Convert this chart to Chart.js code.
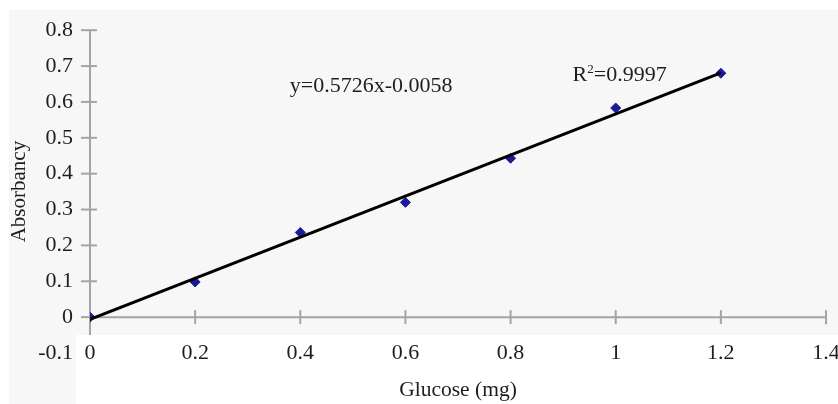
<!DOCTYPE html>
<html>
<head>
<meta charset="utf-8">
<script src="https://cdn.jsdelivr.net/npm/chart.js@4"></script>
<style>
  html, body { margin: 0; padding: 0; background: #fff; }
  #wrap { width: 838px; height: 404px; }
</style>
</head>
<body>
<div id="wrap"><canvas id="myChart" width="838" height="404"></canvas></div>
<script>
// measured points
const glucose = [0, 0.2, 0.4, 0.6, 0.8, 1.0, 1.2];
const absorbancy = [0, 0.098, 0.236, 0.32, 0.443, 0.583, 0.68];

// trend line end points
const trendX = [0, 1.2];
const trendY = [-0.006, 0.681];

const xTicks = [0, 0.2, 0.4, 0.6, 0.8, 1, 1.2, 1.4];
const yTicks = [-0.1, 0, 0.1, 0.2, 0.3, 0.4, 0.5, 0.6, 0.7, 0.8];

const equationText = 'y=0.5726x-0.0058';
const r2Text = '0.9997';

const serif = 'Liberation Serif, Times New Roman, serif';
const textColor = '#1e1e1e';
const fmt = (v) => String(Math.round(v * 10) / 10);

const axisPlugin = {
  id: 'axisPlugin',
  beforeDraw(chart) {
    const c = chart.ctx;
    c.save();
    c.fillStyle = '#ffffff';
    c.fillRect(0, 0, chart.width, chart.height);
    c.fillStyle = '#f7f7f7';
    c.fillRect(9, 10, chart.width - 9, 325);
    c.fillRect(9, 335, 67, chart.height - 335);
    c.restore();
  },
  beforeDatasetsDraw(chart) {
    const c = chart.ctx;
    const xs = chart.scales.x, ys = chart.scales.y;
    const x0 = xs.getPixelForValue(0);
    const y0 = ys.getPixelForValue(0);
    c.save();
    c.strokeStyle = '#a4a4a4';
    c.lineWidth = 2;
    // y axis
    c.beginPath();
    c.moveTo(x0, ys.getPixelForValue(0.8));
    c.lineTo(x0, ys.getPixelForValue(-0.05));
    c.stroke();
    // x axis
    c.beginPath();
    c.moveTo(x0, y0);
    c.lineTo(xs.getPixelForValue(1.4), y0);
    c.stroke();
    // tick marks
    yTicks.forEach(v => {
      if (v < 0) return;
      const y = ys.getPixelForValue(v);
      c.beginPath();
      c.moveTo(x0 - 9, y);
      c.lineTo(x0 + 7, y);
      c.stroke();
    });
    xTicks.forEach(v => {
      const x = xs.getPixelForValue(v);
      c.beginPath();
      c.moveTo(x, y0 - 7);
      c.lineTo(x, y0 + 7);
      c.stroke();
    });
    c.restore();
  },
  afterDraw(chart) {
    const c = chart.ctx;
    const xs = chart.scales.x, ys = chart.scales.y;
    c.save();
    c.fillStyle = textColor;
    c.textBaseline = 'middle';
    // x tick labels sit on the -0.1 level, next to the y label
    c.textAlign = 'center';
    c.font = '22px ' + serif;
    const yLab = ys.getPixelForValue(-0.1);
    xTicks.forEach(v => {
      c.fillText(fmt(v), xs.getPixelForValue(v), yLab);
    });
    c.textAlign = 'left';
    c.font = '22px ' + serif;
    c.fillText(equationText, xs.getPixelForValue(0.38), ys.getPixelForValue(0.645));
    // R squared
    let x = xs.getPixelForValue(0.918);
    const y = ys.getPixelForValue(0.675);
    c.fillText('R', x, y);
    x += c.measureText('R').width;
    c.font = '13px ' + serif;
    c.fillText('2', x, y - 5);
    x += c.measureText('2').width;
    c.font = '22px ' + serif;
    c.fillText('=' + r2Text, x, y);
    c.restore();
  }
};

const ctx = document.getElementById('myChart').getContext('2d');
const myChart = new Chart(ctx, {
  type: 'scatter',
  data: {
    datasets: [{
      type: 'line',
      label: 'Trend',
      data: trendX.map((x, i) => ({ x: x, y: trendY[i] })),
      borderColor: '#000000',
      borderWidth: 3,
      pointRadius: 0,
      fill: false
    }, {
      label: 'Absorbancy',
      data: glucose.map((x, i) => ({ x: x, y: absorbancy[i] })),
      backgroundColor: '#1a1a9a',
      borderColor: '#1a1a9a',
      pointStyle: 'rectRot',
      pointRadius: 5,
      pointHoverRadius: 5
    }]
  },
  options: {
    responsive: false,
    animation: false,
    layout: { padding: { top: 24, right: 12, left: 0, bottom: 0 } },
    plugins: { legend: { display: false }, tooltip: { enabled: false } },
    scales: {
      x: {
        type: 'linear',
        min: 0,
        max: 1.4,
        afterBuildTicks: (s) => { s.ticks = xTicks.map(v => ({ value: v })); },
        afterFit: (s) => { s.height = 51; },
        grid: { display: false, drawTicks: false },
        border: { display: false },
        ticks: { display: false },
        title: {
          display: true,
          text: 'Glucose (mg)',
          color: textColor,
          font: { family: serif, size: 21.5 },
          padding: { top: 0, bottom: 1 }
        }
      },
      y: {
        type: 'linear',
        min: -0.1,
        max: 0.8,
        afterBuildTicks: (s) => { s.ticks = yTicks.map(v => ({ value: v })); },
        afterFit: (s) => { s.width = 90; },
        grid: { display: false, drawTicks: false },
        border: { display: false },
        ticks: {
          padding: 17,
          color: textColor,
          font: { family: serif, size: 22 },
          callback: fmt
        },
        title: {
          display: true,
          text: 'Absorbancy',
          color: textColor,
          font: { family: serif, size: 21 },
          padding: { top: 7, bottom: 0 }
        }
      }
    }
  },
  plugins: [axisPlugin]
});
</script>
</body>
</html>
